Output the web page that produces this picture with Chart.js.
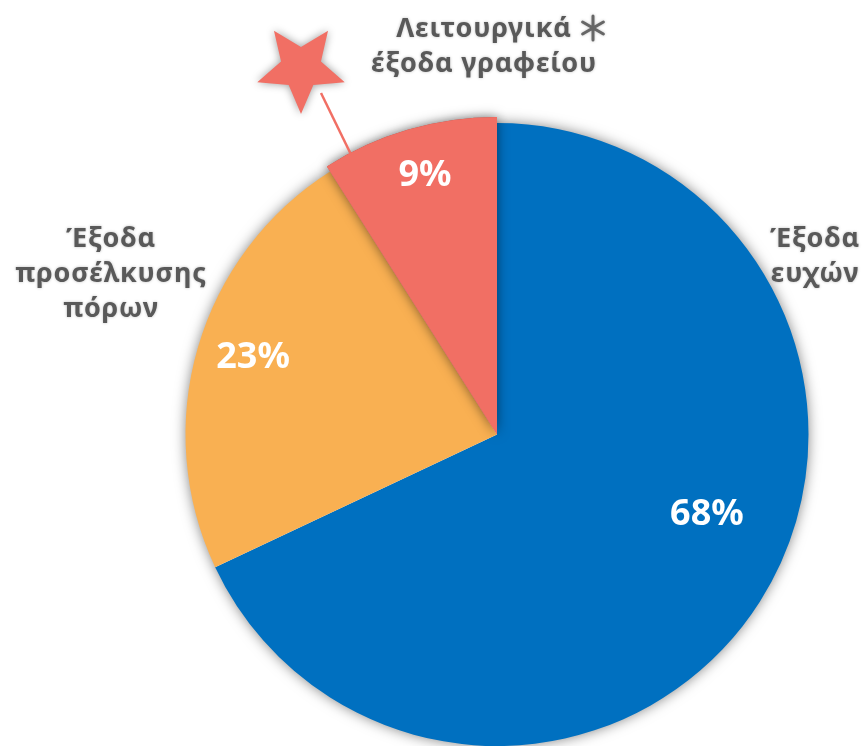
<!DOCTYPE html>
<html>
<head>
<meta charset="utf-8">
<script src="https://cdn.jsdelivr.net/npm/chart.js@4"></script>
<style>
    html, body { margin: 0; padding: 0; background: #ffffff; }
    #wrap { width: 864px; height: 746px; position: relative; }
</style>
</head>
<body>
<div id="wrap"><canvas id="graficaGastos"></canvas></div>
<script>
const categories = ['Έξοδα ευχών', 'Έξοδα προσέλκυσης πόρων', 'Λειτουργικά έξοδα γραφείου'];
const shares = [68, 23, 9];
const sliceColors = ['#0070C0', '#F9B052', '#F16F64'];

// label lines as they are broken in the picture
const categoryLines = [
    ['Έξοδα', 'ευχών'],
    ['Έξοδα', 'προσέλκυσης', 'πόρων'],
    ['Λειτουργικά', 'έξοδα γραφείου']
];

// where each percent sits inside its slice (fraction of angle, fraction of radius)
const pctAngle = [0.453, 0.516, 0.52];
const pctRadius = [0.72, 0.82, 0.86];
const textGrey = '#595959';

document.addEventListener('DOMContentLoaded', function () {
    const canvas = document.getElementById('graficaGastos');

    const raiseSmallSlice = {
        id: 'raiseSmallSlice',
        afterDatasetsUpdate(chart) {
            const arc = chart.getDatasetMeta(0).data[2];
            if (arc) arc.outerRadius += 6;
        }
    };

    const pieShadow = {
        id: 'pieShadow',
        beforeDatasetsDraw(chart) {
            const arc = chart.getDatasetMeta(0).data[0];
            const ctx = chart.ctx;
            ctx.save();
            ctx.shadowColor = 'rgba(0,0,0,0.55)';
            ctx.shadowBlur = 14;
            ctx.fillStyle = '#ffffff';
            ctx.beginPath();
            ctx.arc(arc.x, arc.y, arc.outerRadius - 1, 0, Math.PI * 2);
            ctx.fill();
            ctx.restore();
        },
        afterDatasetsDraw(chart) {
            const ctx = chart.ctx;
            const meta = chart.getDatasetMeta(0);
            const red = meta.data[2];

            // small slice stands out with its own shadow
            ctx.save();
            ctx.shadowColor = 'rgba(0,0,0,0.5)';
            ctx.shadowBlur = 12;
            red.draw(ctx);
            ctx.restore();

            // percent labels
            ctx.save();
            ctx.fillStyle = '#ffffff';
            ctx.textAlign = 'center';
            ctx.textBaseline = 'middle';
            ctx.font = 'bold 36px "Noto Sans"';
            meta.data.forEach(function (a, i) {
                const ang = a.startAngle + (a.endAngle - a.startAngle) * pctAngle[i];
                const r = 312 * pctRadius[i];
                ctx.fillText(shares[i] + '%', a.x + Math.cos(ang) * r, a.y + Math.sin(ang) * r);
            });
            ctx.restore();

            // pointer line and star
            const ang = red.startAngle + (red.endAngle - red.startAngle) * 0.15;
            const ex = red.x + Math.cos(ang) * (red.outerRadius - 2);
            const ey = red.y + Math.sin(ang) * (red.outerRadius - 2);
            ctx.save();
            ctx.strokeStyle = sliceColors[2];
            ctx.lineWidth = 2.5;
            ctx.beginPath();
            ctx.moveTo(321, 93);
            ctx.lineTo(ex, ey);
            ctx.stroke();

            ctx.shadowColor = 'rgba(0,0,0,0.4)';
            ctx.shadowBlur = 8;
            ctx.fillStyle = sliceColors[2];
            ctx.beginPath();
            for (let k = 0; k < 10; k++) {
                const rr = k % 2 === 0 ? 46 : 21;
                const t = Math.PI / 2 + k * Math.PI / 5;
                const px = 301 + Math.cos(t) * rr;
                const py = 68 + Math.sin(t) * rr;
                if (k === 0) ctx.moveTo(px, py); else ctx.lineTo(px, py);
            }
            ctx.closePath();
            ctx.fill();
            ctx.restore();

            // category names
            ctx.save();
            ctx.fillStyle = textGrey;
            ctx.shadowColor = 'rgba(0,0,0,0.25)';
            ctx.shadowBlur = 3;
            ctx.textAlign = 'center';
            ctx.textBaseline = 'alphabetic';
            ctx.font = 'bold 27px "Noto Sans"';
            ctx.letterSpacing = '0.8px';
            const spots = [[815, 247], [111, 247], [484, 37]];
            categoryLines.forEach(function (lines, i) {
                lines.forEach(function (line, j) {
                    ctx.fillText(line, spots[i][0], spots[i][1] + j * 35);
                });
            });

            // asterisk after the office label
            ctx.strokeStyle = '#666666';
            ctx.lineWidth = 3;
            ctx.lineCap = 'round';
            ctx.beginPath();
            for (let k = 0; k < 3; k++) {
                const t = Math.PI / 2 + k * Math.PI / 3;
                ctx.moveTo(593 + Math.cos(t) * 12, 28 + Math.sin(t) * 12);
                ctx.lineTo(593 - Math.cos(t) * 12, 28 - Math.sin(t) * 12);
            }
            ctx.stroke();
            ctx.restore();
        }
    };

    new Chart(canvas, {
        type: 'pie',
        data: {
            labels: categories,
            datasets: [{
                data: shares,
                backgroundColor: sliceColors,
                borderWidth: 0
            }]
        },
        options: {
            responsive: true,
            maintainAspectRatio: false,
            animation: false,
            layout: {
                padding: { left: 185, right: 55, top: 123, bottom: 0 }
            },
            plugins: {
                legend: { display: false },
                tooltip: { enabled: false }
            }
        },
        plugins: [raiseSmallSlice, pieShadow]
    });
});
</script>
</body>
</html>
